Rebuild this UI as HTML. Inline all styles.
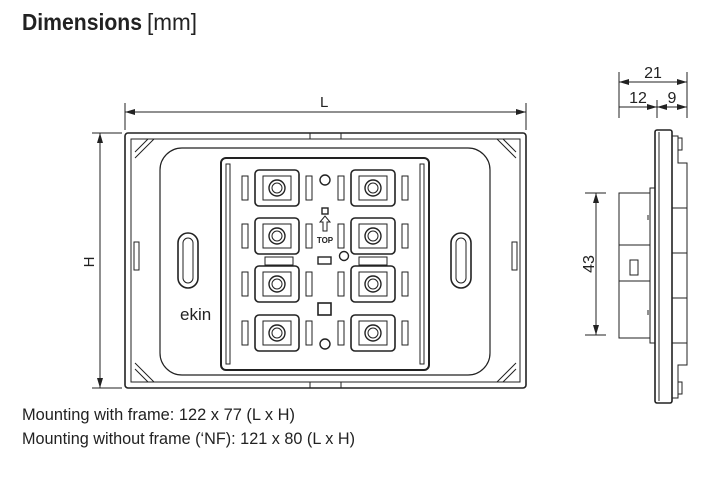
<!DOCTYPE html>
<html><head><style>
body{margin:0;background:#fff;width:716px;height:478px;overflow:hidden}
svg{display:block}
text{font-family:"Liberation Sans Narrow","Liberation Sans",sans-serif;fill:#222}
</style></head><body>
<svg width="716" height="478" viewBox="0 0 716 478" xmlns="http://www.w3.org/2000/svg">
<defs>
<marker id="a" viewBox="0 0 10 6" refX="10" refY="3" markerWidth="10" markerHeight="6" orient="auto-start-reverse" markerUnits="userSpaceOnUse"><path d="M0,0L10,3L0,6z" fill="#222"/></marker>
<g id="btn">
<rect x="-22" y="-18" width="44" height="36" rx="4" fill="none" stroke="#222" stroke-width="1.6"/>
<rect x="-14" y="-12" width="28" height="24" fill="none" stroke="#222" stroke-width="1"/>
<circle r="8" fill="none" stroke="#222" stroke-width="1.4"/>
<circle r="5" fill="none" stroke="#222" stroke-width="1"/>
<rect x="-35" y="-12" width="6" height="24" fill="none" stroke="#222" stroke-width="1"/>
<rect x="29" y="-12" width="6" height="24" fill="none" stroke="#222" stroke-width="1"/>
</g>
</defs>
<text x="22" y="30" font-size="23" font-weight="bold" textLength="120" lengthAdjust="spacingAndGlyphs">Dimensions</text>
<text x="147" y="30" font-size="23" textLength="50" lengthAdjust="spacingAndGlyphs">[mm]</text>

<!-- L dim -->
<line x1="125" y1="103" x2="125" y2="130" stroke="#222"/>
<line x1="526" y1="103" x2="526" y2="130" stroke="#222"/>
<line x1="125" y1="112" x2="526" y2="112" stroke="#222" marker-start="url(#a)" marker-end="url(#a)"/>
<text x="320" y="107" font-size="15">L</text>
<!-- H dim -->
<line x1="92" y1="133" x2="122" y2="133" stroke="#222"/>
<line x1="92" y1="388" x2="122" y2="388" stroke="#222"/>
<line x1="100" y1="133" x2="100" y2="388" stroke="#222" marker-start="url(#a)" marker-end="url(#a)"/>
<text x="94" y="262" font-size="15" transform="rotate(-90 94 262)" text-anchor="middle">H</text>

<!-- front view -->
<g fill="none" stroke="#222">
<rect x="125" y="133" width="401" height="255" rx="3" stroke-width="1.6"/>
<rect x="131" y="139" width="389" height="243" stroke-width="1"/>
<rect x="310" y="133" width="31" height="6"/><rect x="310" y="382" width="31" height="6"/>
<rect x="134" y="242" width="5" height="28"/><rect x="512" y="242" width="5" height="28"/>
<path d="M135,152 L148,139 M135,158 L154,139 M516,152 L503,139 M516,158 L497,139 M135,369 L148,382 M135,363 L154,382 M516,369 L503,382 M516,363 L497,382"/>
<rect x="160" y="148" width="330" height="227" rx="22" stroke-width="1.2"/>
<rect x="178" y="233" width="20" height="55" rx="10" stroke-width="1.6"/><rect x="183" y="238" width="10" height="45" rx="5"/>
<rect x="451" y="233" width="20" height="55" rx="10" stroke-width="1.6"/><rect x="456" y="238" width="10" height="45" rx="5"/>
<rect x="221" y="158" width="208" height="212" rx="5" fill="#fff" stroke-width="2"/>
<rect x="226" y="164" width="4" height="200"/><rect x="420" y="164" width="4" height="200"/>
<circle cx="325" cy="180" r="5" stroke-width="1.4"/><circle cx="325" cy="344" r="5" stroke-width="1.4"/><circle cx="344" cy="256" r="4.5" stroke-width="1.4"/>
<rect x="322" y="208" width="6" height="6" stroke-width="1.4"/>
<path d="M323,231 V222 H320 L325,216 L330,222 H327 V231 Z" stroke-width="1"/>
<rect x="318" y="257" width="13" height="7" stroke-width="1.4"/>
<rect x="318" y="303" width="13" height="12" stroke-width="1.6"/>
<rect x="265" y="257" width="28" height="8" stroke-width="1"/><rect x="359" y="257" width="28" height="8" stroke-width="1"/>
</g>
<text x="325" y="243" font-size="8" font-weight="bold" text-anchor="middle">TOP</text>
<text x="180" y="320" font-size="17" fill="#444">ekin</text>
<use href="#btn" x="277" y="188"/><use href="#btn" x="373" y="188"/>
<use href="#btn" x="277" y="236"/><use href="#btn" x="373" y="236"/>
<use href="#btn" x="277" y="284"/><use href="#btn" x="373" y="284"/>
<use href="#btn" x="277" y="333"/><use href="#btn" x="373" y="333"/>

<!-- side view -->
<g fill="none" stroke="#222">
<line x1="619" y1="72" x2="619" y2="118"/><line x1="687" y1="72" x2="687" y2="118"/><line x1="657" y1="100" x2="657" y2="118"/>
<line x1="619" y1="82" x2="687" y2="82" marker-start="url(#a)" marker-end="url(#a)"/>
<line x1="619" y1="107" x2="657" y2="107" marker-end="url(#a)"/>
<line x1="657" y1="107" x2="687" y2="107" marker-start="url(#a)" marker-end="url(#a)"/>
<rect x="655" y="130" width="17" height="273" rx="2" stroke-width="1.6"/>
<line x1="659" y1="132" x2="659" y2="401"/>
<path d="M672,136 H678 V163 H687 V208 M672,208 H687 V253 H672 M687,253 V298 M672,298 H687 V343 H672 M687,343 V365 H678 V398 H672" />
<rect x="678" y="138" width="4" height="12"/><rect x="678" y="382" width="4" height="12"/>
<path d="M655,188 H650 V193 H619 V338 H650 V343 H655"/>
<line x1="650" y1="193" x2="650" y2="338"/>
<line x1="619" y1="245" x2="650" y2="245"/><line x1="619" y1="281" x2="650" y2="281"/>
<rect x="630" y="260" width="8" height="15"/>
<line x1="648" y1="215" x2="648" y2="220"/><line x1="648" y1="310" x2="648" y2="315"/>
<line x1="585" y1="193" x2="606" y2="193"/><line x1="585" y1="335" x2="606" y2="335"/>
<line x1="596" y1="193" x2="596" y2="335" marker-start="url(#a)" marker-end="url(#a)"/>
</g>
<text x="653" y="78" font-size="16" text-anchor="middle">21</text>
<text x="638" y="103" font-size="16" text-anchor="middle">12</text>
<text x="672" y="103" font-size="16" text-anchor="middle">9</text>
<text x="594" y="264" font-size="16" transform="rotate(-90 594 264)" text-anchor="middle">43</text>

<text x="22" y="420" font-size="17" textLength="273" lengthAdjust="spacingAndGlyphs">Mounting with frame: 122 x 77 (L x H)</text>
<text x="22" y="444" font-size="17" textLength="333" lengthAdjust="spacingAndGlyphs">Mounting without frame (‘NF): 121 x 80 (L x H)</text>
</svg>
</body></html>
